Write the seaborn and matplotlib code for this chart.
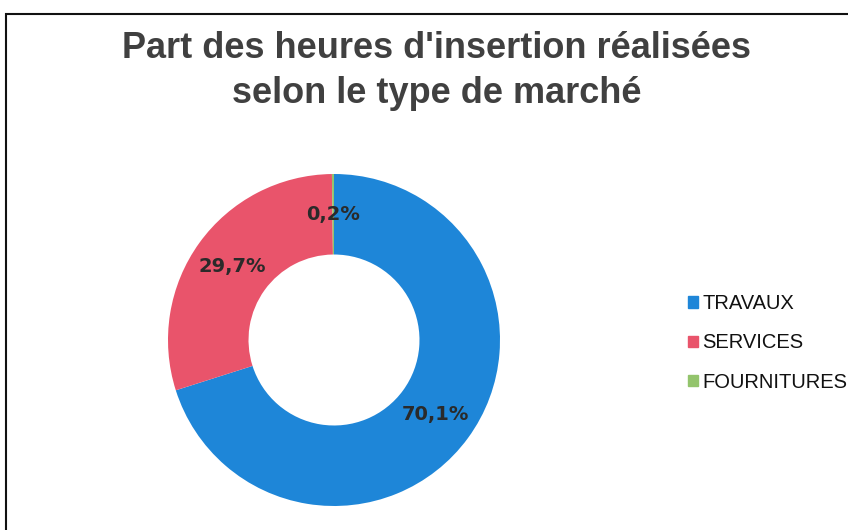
import matplotlib
matplotlib.use("Agg")
import matplotlib.pyplot as plt
import matplotlib.patches as mpatches
import seaborn as sns

categories = ["TRAVAUX", "SERVICES", "FOURNITURES"]
values = [70.1, 29.7, 0.2]
colors = ["#1e86d8", "#e9546b", "#93c46c"]

sns.set_style("white")
plt.rcParams["font.family"] = ["Liberation Sans", "DejaVu Sans"]

fig = plt.figure(figsize=(8.48, 5.30), dpi=100)

# donut
ax = fig.add_axes([168 / 848, 24 / 530, 332 / 848, 332 / 530])
wedges, texts, autotexts = ax.pie(
    values, colors=colors, startangle=90, counterclock=False,
    radius=1, wedgeprops=dict(width=0.485, linewidth=0),
    autopct=lambda p: f"{p:.1f}%".replace(".", ","), pctdistance=0.757,
    textprops=dict(fontsize=14, fontweight="bold", color="#2a2a2a",
                   family="DejaVu Sans"),
)
ax.set_xlim(-1, 1)
ax.set_ylim(-1, 1)
ax.set_aspect("equal")
ax.axis("off")

# title (baseline of the last line)
fig.text(0.515, 1 - 103 / 530, "Part des heures d'insertion réalisées\nselon le type de marché",
         ha="center", va="baseline", fontsize=26, fontweight="bold", color="#404040",
         linespacing=1.38, multialignment="center")

# legend
handles = [mpatches.Patch(color=c, label=l) for c, l in zip(colors, categories)]
leg = fig.legend(handles=handles, loc="center left", bbox_to_anchor=(688 / 848, 1 - 343 / 530),
                 frameon=False, fontsize=14.5, handlelength=0.5, handleheight=0.5,
                 handletextpad=0.2, labelspacing=1.0, borderaxespad=0, borderpad=0)
for t in leg.get_texts():
    t.set_color("#111111")

# frame line of the original chart area
fig.patches.append(mpatches.Rectangle((6 / 848, -0.2), 1.2, 1.2 - 14 / 530,
                                      transform=fig.transFigure, fill=False,
                                      edgecolor="#111111", linewidth=1.5))

fig.savefig("out.png", dpi=100)
